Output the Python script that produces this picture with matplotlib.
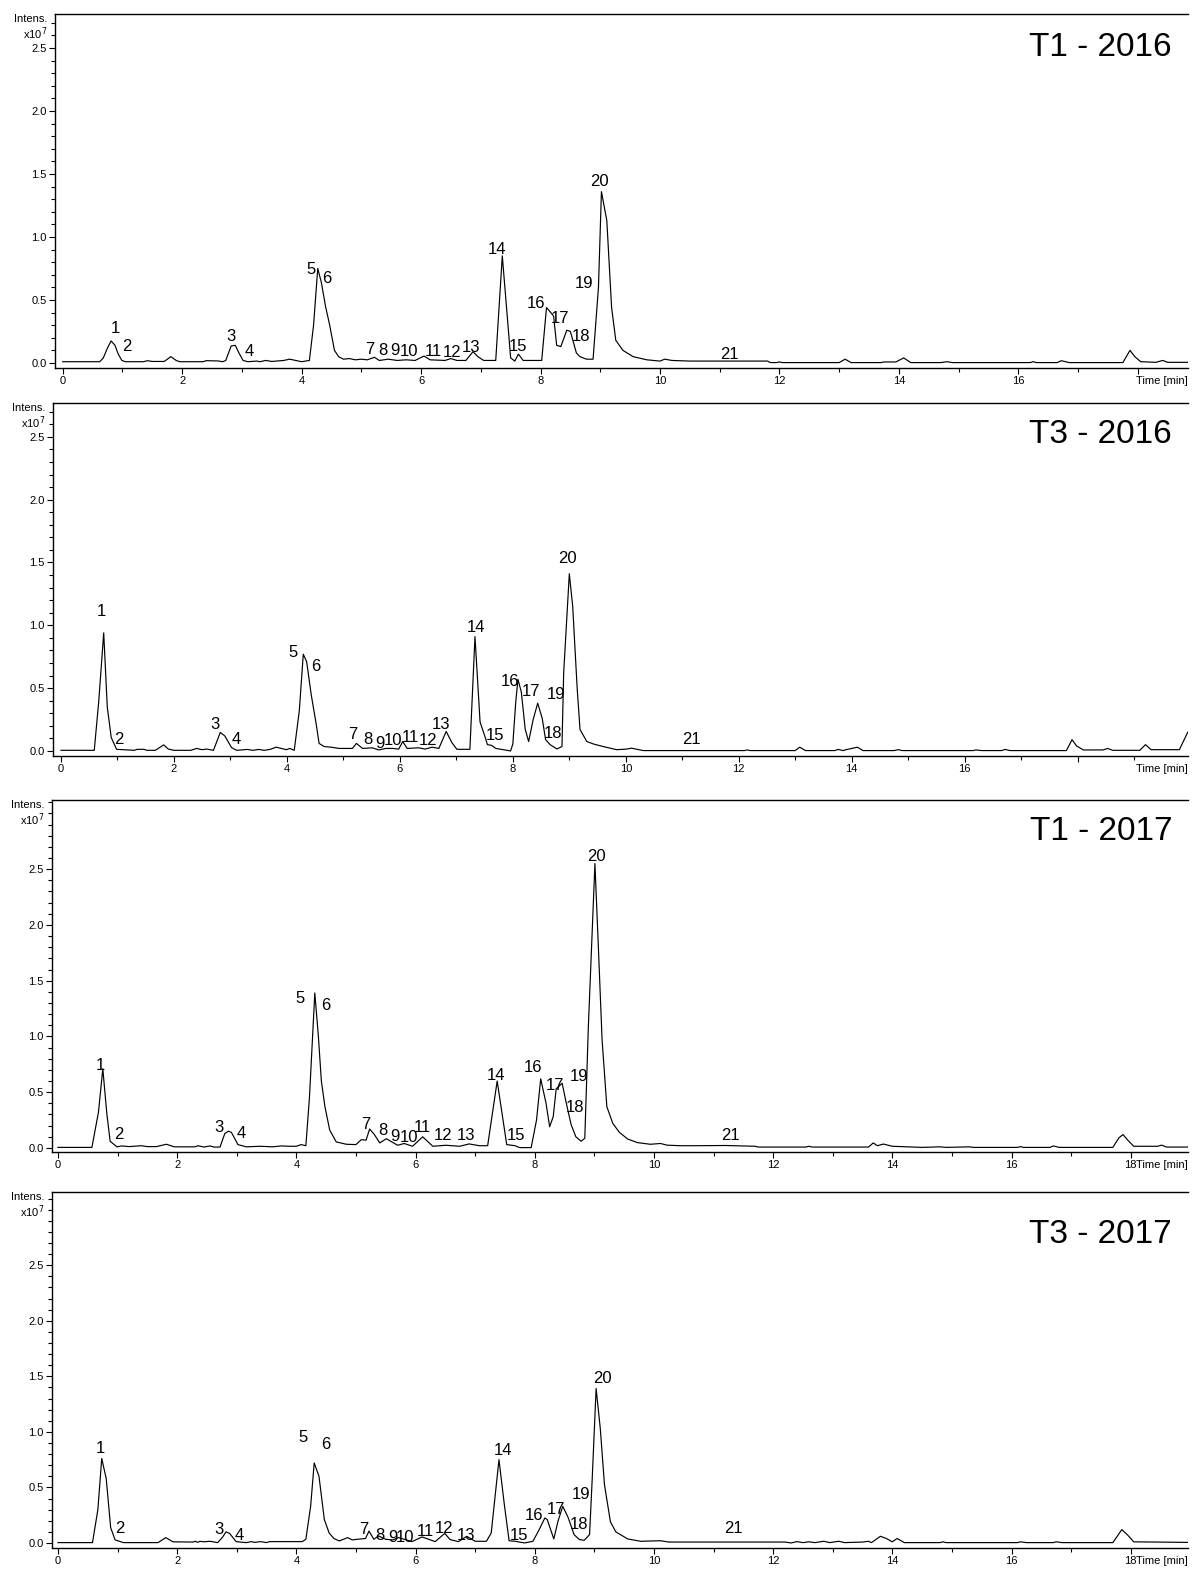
import matplotlib
matplotlib.use('Agg')
import matplotlib.pyplot as plt
from matplotlib.ticker import MultipleLocator

plt.rcParams['font.family'] = ['Liberation Sans', 'DejaVu Sans']

peak_names = [str(i) for i in range(1, 22)]

# ---- T1 - 2016 ----
t1_2016_time = [0.0, 0.62, 0.68, 0.75, 0.81, 0.875, 0.93, 0.99, 1.05, 1.35, 1.42, 1.5, 1.7, 1.81, 1.9, 1.96,
                2.35, 2.4, 2.6, 2.68, 2.73, 2.82, 2.89, 2.95, 3.02, 3.1, 3.25, 3.3, 3.4, 3.5, 3.7, 3.8, 3.9,
                4.0, 4.13, 4.2, 4.27, 4.33, 4.4, 4.47, 4.55, 4.62, 4.7, 4.8, 4.9, 5.0, 5.1, 5.22, 5.3, 5.45,
                5.6, 5.75, 5.9, 6.05, 6.15, 6.4, 6.5, 6.6, 6.75, 6.87, 6.95, 7.05, 7.25, 7.36, 7.5, 7.57,
                7.63, 7.71, 8.02, 8.1, 8.19, 8.22, 8.27, 8.34, 8.44, 8.5, 8.6, 8.66, 8.77, 8.88, 8.97, 9.02,
                9.11, 9.19, 9.26, 9.38, 9.55, 9.78, 10.0, 10.08, 10.2, 10.5, 11.8, 11.85, 11.95, 12.0, 12.05,
                13.0, 13.1, 13.2, 13.7, 13.75, 13.95, 14.08, 14.2, 14.7, 14.8, 14.9, 16.2, 16.25, 16.3,
                16.65, 16.72, 16.85, 17.75, 17.87, 17.95, 18.05, 18.3, 18.42, 18.5, 18.84]
t1_2016_int = [0.01, 0.01, 0.04, 0.12, 0.175, 0.14, 0.07, 0.02, 0.01, 0.01, 0.018, 0.012, 0.012, 0.05, 0.02, 0.01,
               0.01, 0.018, 0.016, 0.01, 0.02, 0.135, 0.14, 0.08, 0.02, 0.01, 0.015, 0.01, 0.02, 0.012, 0.02, 0.03, 0.02,
               0.01, 0.02, 0.3, 0.75, 0.64, 0.45, 0.3, 0.1, 0.05, 0.03, 0.035, 0.025, 0.03, 0.025, 0.045, 0.02, 0.03,
               0.02, 0.025, 0.02, 0.055, 0.025, 0.02, 0.035, 0.02, 0.02, 0.09, 0.05, 0.02, 0.02, 0.85, 0.04, 0.015,
               0.07, 0.02, 0.02, 0.44, 0.39, 0.37, 0.14, 0.13, 0.26, 0.25, 0.08, 0.05, 0.03, 0.03, 0.6, 1.36,
               1.13, 0.44, 0.18, 0.1, 0.05, 0.025, 0.015, 0.03, 0.02, 0.015, 0.015, 0.003, 0.003, 0.008, 0.003,
               0.003, 0.03, 0.003, 0.003, 0.008, 0.008, 0.04, 0.003, 0.003, 0.01, 0.003, 0.003, 0.01, 0.003,
               0.003, 0.018, 0.003, 0.003, 0.1, 0.05, 0.01, 0.005, 0.02, 0.005, 0.005]
t1_2016_lab_x = [0.89, 1.07, 2.81, 3.12, 4.15, 4.42, 5.14, 5.36, 5.56, 5.8, 6.2, 6.52, 6.83, 7.27, 7.62,
                 7.92, 8.32, 8.68, 8.73, 8.98, 11.17]
t1_2016_lab_y = [0.27, 0.13, 0.21, 0.09, 0.74, 0.67, 0.11, 0.1, 0.1, 0.09, 0.09, 0.08, 0.12, 0.90, 0.13,
                 0.47, 0.35, 0.21, 0.63, 1.44, 0.07]

# ---- T3 - 2016 ----
t3_2016_time = [0.0, 0.59, 0.67, 0.757, 0.82, 0.89, 0.985, 1.3, 1.35, 1.47, 1.52, 1.67, 1.82, 1.9, 2.0, 2.3,
                2.4, 2.5, 2.58, 2.7, 2.82, 2.9, 3.02, 3.11, 3.3, 3.4, 3.5, 3.6, 3.7, 3.81, 3.9, 3.99, 4.05,
                4.13, 4.22, 4.29, 4.35, 4.43, 4.52, 4.57, 4.66, 4.78, 4.93, 5.16, 5.23, 5.34, 5.51, 5.63,
                5.75, 5.87, 5.98, 6.05, 6.13, 6.33, 6.45, 6.57, 6.69, 6.82, 6.92, 7.01, 7.24, 7.33, 7.42,
                7.51, 7.55, 7.62, 7.7, 7.96, 8.0, 8.05, 8.09, 8.15, 8.22, 8.28, 8.36, 8.44, 8.52, 8.58, 8.66,
                8.78, 8.87, 8.9, 9.0, 9.06, 9.14, 9.19, 9.31, 9.43, 9.6, 9.84, 10.02, 10.1, 10.31, 12.1,
                12.15, 12.2, 13.0, 13.08, 13.18, 13.7, 13.76, 13.85, 13.9, 14.1, 14.2, 14.75, 14.82, 14.9,
                16.15, 16.2, 16.3, 16.65, 16.72, 16.8, 17.8, 17.9, 17.98, 18.1, 18.45, 18.53, 18.62, 19.1,
                19.2, 19.3, 19.8, 19.95]
t3_2016_int = [0.005, 0.005, 0.4, 0.94, 0.35, 0.107, 0.013, 0.005, 0.013, 0.013, 0.005, 0.005, 0.048, 0.015, 0.005, 0.005,
               0.02, 0.01, 0.015, 0.005, 0.147, 0.12, 0.027, 0.005, 0.012, 0.005, 0.012, 0.005, 0.012, 0.03, 0.02, 0.01, 0.02,
               0.005, 0.32, 0.77, 0.71, 0.45, 0.21, 0.06, 0.035, 0.03, 0.02, 0.02, 0.06, 0.02, 0.025, 0.008,
               0.02, 0.02, 0.015, 0.075, 0.02, 0.025, 0.015, 0.03, 0.02, 0.155, 0.067, 0.013, 0.013, 0.91, 0.23,
               0.11, 0.05, 0.045, 0.02, 0.0, 0.055, 0.38, 0.57, 0.47, 0.17, 0.075, 0.25, 0.38, 0.26, 0.09, 0.05,
               0.016, 0.035, 0.62, 1.41, 1.15, 0.49, 0.17, 0.075, 0.055, 0.035, 0.01, 0.015, 0.022, 0.003, 0.003,
               0.008, 0.003, 0.003, 0.03, 0.003, 0.003, 0.012, 0.003, 0.01, 0.03, 0.003, 0.003, 0.01, 0.003,
               0.003, 0.008, 0.003, 0.003, 0.012, 0.003, 0.003, 0.09, 0.04, 0.008, 0.008, 0.02, 0.005, 0.005,
               0.05, 0.01, 0.01, 0.15]
t3_2016_lab_x = [0.71, 1.03, 2.73, 3.1, 4.11, 4.51, 5.17, 5.43, 5.65, 5.88, 6.18, 6.5, 6.73, 7.35, 7.68,
                 7.95, 8.32, 8.71, 8.76, 8.97, 11.17]
t3_2016_lab_y = [1.11, 0.09, 0.21, 0.09, 0.78, 0.67, 0.13, 0.09, 0.06, 0.08, 0.11, 0.08, 0.21, 0.98, 0.12,
                 0.55, 0.47, 0.14, 0.45, 1.53, 0.09]

# ---- T1 - 2017 ----
t1_2017_time = [0.0, 0.57, 0.68, 0.753, 0.82, 0.876, 0.99, 1.07, 1.2, 1.4, 1.5, 1.65, 1.82, 1.95, 2.3, 2.35,
                2.45, 2.55, 2.62, 2.72, 2.8, 2.86, 2.91, 3.02, 3.16, 3.4, 3.6, 3.75, 3.9, 4.0, 4.08, 4.16,
                4.22, 4.31, 4.37, 4.42, 4.48, 4.56, 4.67, 4.84, 5.0, 5.09, 5.17, 5.23, 5.31, 5.4, 5.51, 5.7,
                5.81, 5.95, 6.12, 6.29, 6.51, 6.74, 6.9, 7.07, 7.21, 7.29, 7.37, 7.53, 7.67, 7.75, 7.94,
                8.03, 8.1, 8.19, 8.25, 8.31, 8.36, 8.46, 8.53, 8.61, 8.69, 8.78, 8.84, 8.9, 9.01, 9.07, 9.13,
                9.21, 9.31, 9.42, 9.56, 9.72, 9.94, 10.11, 10.22, 10.44, 10.7, 11.2, 11.7, 11.75, 12.55,
                12.6, 12.65, 13.6, 13.68, 13.75, 13.85, 14.0, 14.5, 14.8, 14.9, 15.3, 15.35, 16.1, 16.15,
                16.2, 16.65, 16.7, 16.8, 17.7, 17.8, 17.87, 17.95, 18.05, 18.45, 18.52, 18.6, 18.96]
t1_2017_int = [0.005, 0.005, 0.32, 0.71, 0.31, 0.06, 0.01, 0.018, 0.012, 0.02, 0.012, 0.012, 0.033, 0.01, 0.01, 0.02,
               0.008, 0.018, 0.008, 0.008, 0.13, 0.15, 0.14, 0.03, 0.01, 0.015, 0.01, 0.018, 0.015, 0.015, 0.03, 0.02,
               0.45, 1.39, 1.0, 0.6, 0.37, 0.16, 0.054, 0.033, 0.03, 0.074, 0.07, 0.17, 0.12, 0.045, 0.083, 0.024,
               0.04, 0.015, 0.1, 0.015, 0.024, 0.015, 0.036, 0.02, 0.02, 0.31, 0.6, 0.03, 0.02, 0.003, 0.003,
               0.25, 0.62, 0.4, 0.19, 0.28, 0.53, 0.58, 0.4, 0.21, 0.1, 0.06, 0.087, 1.09, 2.55, 1.77, 0.97,
               0.37, 0.22, 0.14, 0.08, 0.048, 0.033, 0.04, 0.025, 0.02, 0.02, 0.022, 0.015, 0.008, 0.008,
               0.015, 0.008, 0.008, 0.045, 0.02, 0.035, 0.015, 0.005, 0.01, 0.005, 0.01, 0.005, 0.005, 0.012,
               0.005, 0.005, 0.018, 0.005, 0.005, 0.09, 0.12, 0.07, 0.015, 0.015, 0.025, 0.008, 0.008]
t1_2017_lab_x = [0.72, 1.02, 2.7, 3.07, 4.06, 4.5, 5.17, 5.45, 5.65, 5.89, 6.12, 6.46, 6.85, 7.35, 7.68,
                 7.97, 8.34, 8.67, 8.74, 9.04, 11.28]
t1_2017_lab_y = [0.74, 0.12, 0.18, 0.13, 1.34, 1.28, 0.21, 0.16, 0.1, 0.09, 0.18, 0.11, 0.11, 0.65, 0.11,
                 0.72, 0.56, 0.36, 0.64, 2.61, 0.11]

# ---- T3 - 2017 ----
t3_2017_time = [0.0, 0.58, 0.67, 0.735, 0.81, 0.885, 0.96, 1.03, 1.1, 1.68, 1.81, 1.93, 2.27, 2.3, 2.35, 2.38,
                2.45, 2.55, 2.68, 2.76, 2.82, 2.88, 2.99, 3.16, 3.25, 3.3, 3.4, 3.5, 3.55, 3.75, 4.1, 4.16,
                4.24, 4.3, 4.38, 4.47, 4.55, 4.63, 4.72, 4.86, 4.94, 5.02, 5.16, 5.22, 5.3, 5.38, 5.5, 5.61,
                5.72, 5.94, 6.11, 6.33, 6.49, 6.58, 6.72, 6.86, 7.0, 7.19, 7.27, 7.4, 7.49, 7.57, 7.67, 7.83,
                7.97, 8.06, 8.17, 8.21, 8.32, 8.39, 8.47, 8.56, 8.66, 8.75, 8.83, 8.92, 8.96, 9.03, 9.1, 9.17,
                9.27, 9.36, 9.56, 9.78, 10.11, 10.25, 10.7, 12.2, 12.3, 12.4, 12.5, 12.6, 12.7, 12.85, 12.95,
                13.1, 13.2, 13.5, 13.6, 13.65, 13.8, 13.9, 14.0, 14.08, 14.2, 14.8, 14.85, 14.9, 16.1, 16.15,
                16.25, 16.7, 16.75, 16.85, 17.7, 17.85, 17.95, 18.05, 18.96]
t3_2017_int = [0.003, 0.003, 0.3, 0.76, 0.58, 0.137, 0.027, 0.015, 0.003, 0.003, 0.048, 0.01, 0.008, 0.015, 0.005, 0.015,
               0.01, 0.015, 0.003, 0.05, 0.1, 0.086, 0.012, 0.003, 0.012, 0.005, 0.012, 0.003, 0.012, 0.012, 0.012, 0.033,
               0.33, 0.72, 0.6, 0.21, 0.09, 0.04, 0.018, 0.048, 0.027, 0.033, 0.04, 0.107, 0.033, 0.063, 0.033, 0.027,
               0.048, 0.012, 0.054, 0.012, 0.086, 0.03, 0.012, 0.06, 0.015, 0.015, 0.09, 0.75, 0.345, 0.02, 0.015, 0.0,
               0.015, 0.105, 0.225, 0.21, 0.036, 0.195, 0.33, 0.23, 0.075, 0.03, 0.024, 0.075, 0.525, 1.39, 1.03, 0.525,
               0.19, 0.1, 0.036, 0.015, 0.02, 0.008, 0.008, 0.008, 0.0, 0.012, 0.003, 0.01, 0.003, 0.015, 0.003,
               0.015, 0.003, 0.008, 0.015, 0.003, 0.06, 0.04, 0.01, 0.04, 0.003, 0.003, 0.01, 0.003, 0.003, 0.01,
               0.003, 0.003, 0.01, 0.003, 0.003, 0.12, 0.07, 0.01, 0.005]
t3_2017_lab_x = [0.72, 1.04, 2.7, 3.04, 4.11, 4.5, 5.13, 5.4, 5.62, 5.82, 6.16, 6.48, 6.85, 7.47, 7.73,
                 7.99, 8.36, 8.74, 8.78, 9.14, 11.33]
t3_2017_lab_y = [0.85, 0.13, 0.12, 0.07, 0.95, 0.89, 0.12, 0.07, 0.05, 0.05, 0.10, 0.13, 0.07, 0.83, 0.07,
                 0.25, 0.30, 0.17, 0.44, 1.48, 0.13]

fig = plt.figure(figsize=(11.92, 15.72), dpi=100)

# one entry per chromatogram: data, title, axes rect, xlim, ylim, last labelled tick, title height
panels = [
    (t1_2016_time, t1_2016_int, t1_2016_lab_x, t1_2016_lab_y, 'T1 - 2016',
     [0.0461, 0.7659, 0.9505, 0.2252], (-0.13, 18.84), (-0.04, 2.77), 16, 0.905),
    (t3_2016_time, t3_2016_int, t3_2016_lab_x, t3_2016_lab_y, 'T3 - 2016',
     [0.0445, 0.5191, 0.952, 0.2246], (-0.14, 19.95), (-0.04, 2.77), 16, 0.91),
    (t1_2017_time, t1_2017_int, t1_2017_lab_x, t1_2017_lab_y, 'T1 - 2017',
     [0.0436, 0.2672, 0.953, 0.2239], (-0.1, 18.96), (-0.036, 3.12), 18, 0.91),
    (t3_2017_time, t3_2017_int, t3_2017_lab_x, t3_2017_lab_y, 'T3 - 2017',
     [0.0436, 0.0153, 0.953, 0.2265], (-0.1, 18.96), (-0.045, 3.16), 18, 0.88),
]

for time, inten, lab_x, lab_y, title, rect, xlim, ylim, last_tick, title_y in panels:
    ax = fig.add_axes(rect)
    ax.plot(time, inten, color='black', lw=0.85)

    for name, lx, ly in zip(peak_names, lab_x, lab_y):
        ax.text(lx, ly, name, fontsize=12, ha='center', va='center')

    ax.set_xlim(xlim)
    ax.set_ylim(ylim)

    xt = list(range(0, int(xlim[1]) + 1, 2))
    ax.set_xticks(xt)
    ax.set_xticklabels([str(v) if v <= last_tick else '' for v in xt])
    ax.xaxis.set_minor_locator(MultipleLocator(1))
    ax.set_yticks([0.0, 0.5, 1.0, 1.5, 2.0, 2.5])
    ax.set_yticklabels(['0.0', '0.5', '1.0', '1.5', '2.0', '2.5'])
    ax.yaxis.set_minor_locator(MultipleLocator(0.1))
    ax.tick_params(which='both', direction='out', labelsize=8, width=0.8, pad=2)
    ax.tick_params(which='major', length=4)
    ax.tick_params(which='minor', length=3)

    ax.spines['right'].set_visible(False)
    for s in ['left', 'bottom', 'top']:
        ax.spines[s].set_linewidth(1.0)

    ax.text(0.986, title_y, title, fontsize=24, ha='right', va='center', transform=ax.transAxes)
    ax.text(-0.007, 0.985, 'Intens.', fontsize=8, ha='right', va='center', transform=ax.transAxes)
    ax.text(-0.007, 0.945, r'x10$^7$', fontsize=8, ha='right', va='center', transform=ax.transAxes)
    ax.text(1.0, -0.037, 'Time [min]', fontsize=8, ha='right', va='center', transform=ax.transAxes)

fig.savefig('out.png', dpi=100)
